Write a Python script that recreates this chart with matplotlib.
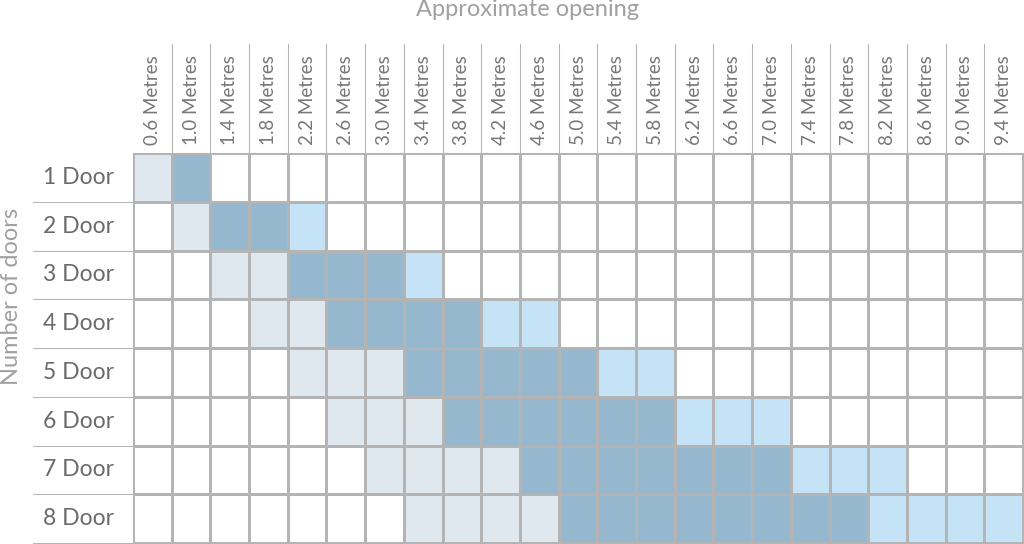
import numpy as np
import matplotlib
matplotlib.use("Agg")
import matplotlib.pyplot as plt
from matplotlib.colors import ListedColormap

plt.rcParams["font.family"] = ["Lato", "DejaVu Sans"]

openings = [0.6, 1.0, 1.4, 1.8, 2.2, 2.6, 3.0, 3.4, 3.8, 4.2, 4.6, 5.0,
            5.4, 5.8, 6.2, 6.6, 7.0, 7.4, 7.8, 8.2, 8.6, 9.0, 9.4]
doors = ["1 Door", "2 Door", "3 Door", "4 Door",
         "5 Door", "6 Door", "7 Door", "8 Door"]

# 0 = not available, 1 = tight fit, 2 = standard, 3 = extended
door_1 = [1, 2, 0, 0, 0, 0, 0, 0, 0, 0, 0, 0, 0, 0, 0, 0, 0, 0, 0, 0, 0, 0, 0]
door_2 = [0, 1, 2, 2, 3, 0, 0, 0, 0, 0, 0, 0, 0, 0, 0, 0, 0, 0, 0, 0, 0, 0, 0]
door_3 = [0, 0, 1, 1, 2, 2, 2, 3, 0, 0, 0, 0, 0, 0, 0, 0, 0, 0, 0, 0, 0, 0, 0]
door_4 = [0, 0, 0, 1, 1, 2, 2, 2, 2, 3, 3, 0, 0, 0, 0, 0, 0, 0, 0, 0, 0, 0, 0]
door_5 = [0, 0, 0, 0, 1, 1, 1, 2, 2, 2, 2, 2, 3, 3, 0, 0, 0, 0, 0, 0, 0, 0, 0]
door_6 = [0, 0, 0, 0, 0, 1, 1, 1, 2, 2, 2, 2, 2, 2, 3, 3, 3, 0, 0, 0, 0, 0, 0]
door_7 = [0, 0, 0, 0, 0, 0, 1, 1, 1, 1, 2, 2, 2, 2, 2, 2, 2, 3, 3, 3, 0, 0, 0]
door_8 = [0, 0, 0, 0, 0, 0, 0, 1, 1, 1, 1, 2, 2, 2, 2, 2, 2, 2, 2, 3, 3, 3, 3]

grid = np.array([door_1, door_2, door_3, door_4, door_5, door_6, door_7, door_8])
cmap = ListedColormap(["#ffffff", "#dfe7ef", "#95b8cf", "#c4e3f6"])
line_col = "#b4b4b4"
lw = 0.75

fig = plt.figure(figsize=(10.24, 5.44), dpi=100)
ax = fig.add_axes([133 / 1024, 1 / 544, 890 / 1024, 390 / 544])
ax.pcolormesh(grid, cmap=cmap, vmin=-0.5, vmax=3.5,
              edgecolors=line_col, linewidth=lw)
ax.set_xlim(0, len(openings))
ax.set_ylim(len(doors), 0)
for s in ax.spines.values():
    s.set_color(line_col)
    s.set_linewidth(lw)

ax.xaxis.tick_top()
ax.set_xticks(np.arange(len(openings)) + 0.5)
ax.set_xticklabels([f"{o:.1f} Metres" for o in openings], rotation=90,
                   fontsize=13.5, color="#777777")
ax.tick_params(axis="x", length=0, pad=6)
ax.set_yticks([])

# header separators and row separators extending into the label area
for i in range(1, len(openings)):
    ax.plot([i, i], [1, 1.28], color=line_col, lw=lw, clip_on=False,
            transform=ax.get_xaxis_transform())
for j in range(1, len(doors) + 1):
    ax.plot([-0.1124, 0], [j, j], color=line_col, lw=lw, clip_on=False,
            transform=ax.get_yaxis_transform())
for j, d in enumerate(doors):
    ax.text(-0.101, j + 0.5, d, ha="left", va="center", fontsize=16.5,
            color="#6a6a6a", transform=ax.get_yaxis_transform())

fig.text(528 / 1024, 1 - 10 / 544, "Approximate opening", ha="center",
         va="center", fontsize=17, color="#a0a0a0")
fig.text(12 / 1024, 1 - 296 / 544, "Number of doors", ha="center",
         va="center", rotation=90, fontsize=17, color="#a0a0a0")

fig.savefig("out.png", dpi=100)
